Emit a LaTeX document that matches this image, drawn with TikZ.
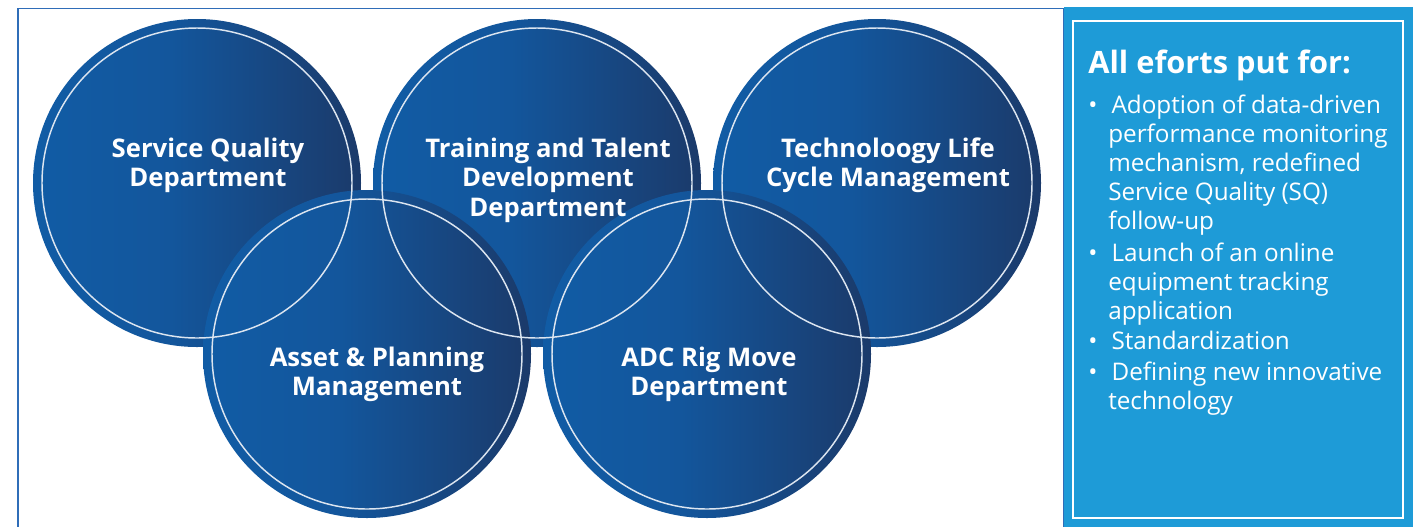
\documentclass[tikz,border=0pt]{standalone}
\usepackage{fontspec}
\setmainfont{Open Sans}
\definecolor{frameblue}{HTML}{2F6DB8}
\definecolor{panelblue}{HTML}{1E9BD7}
\definecolor{discA}{HTML}{115CA5}
\definecolor{discB}{HTML}{13569C}
\definecolor{discC}{HTML}{1B3A6A}
\definecolor{ringwhite}{HTML}{DCE5F0}
% left-to-right fade of each disc; 25bp..75bp spans the disc
\pgfdeclarehorizontalshading{discshade}{100bp}{color(0bp)=(discA); color(25bp)=(discA); color(46bp)=(discB); color(75bp)=(discC); color(100bp)=(discC)}
\tikzset{
  disc/.style={circle, minimum size=246pt, inner sep=0pt, shade, shading=discshade, draw=none},
  ring/.style={draw=ringwhite, line width=1.1pt},
  dept/.style={align=center, text=white, inner sep=0pt,
    font=\fontsize{19.25pt}{22pt}\selectfont\bfseries},
  heading/.style={text=white, inner sep=0pt, font=\fontsize{23.1pt}{28pt}\selectfont\bfseries},
  bullets/.style={align=left, text=white, inner sep=0pt,
    font=\fontsize{18.2pt}{21.75pt}\selectfont},
}
% bullet hangs left of the text block; first line starts a little further in
\newcommand{\itm}{\llap{\textbullet\hspace{8pt}}\hspace{2.5pt}}
\begin{document}
\begin{tikzpicture}[x=0.75pt, y=-0.75pt]
\useasboundingbox (0,0) rectangle (1413,526);
\clip (0,0) rectangle (1413,526);
% outer frame and side panel
\draw[frameblue, line width=1.1pt] (18,8.5) rectangle (1064,545);
\fill[panelblue] (1064,7) rectangle (1420,545);
\draw[white, line width=1.5pt] (1073,21) rectangle (1403,518);
% discs: upper row first, lower row over it
\node[disc] (sq)  at (197,183) {};
\node[disc] (ttd) at (537,183) {};
\node[disc] (tlc) at (877,183) {};
\node[disc] (apm) at (367,354) {};
\node[disc] (adc) at (707,354) {};
% inner rings stay visible over every disc
\foreach \d in {sq,ttd,tlc,apm,adc}
  \draw[ring] (\d.center) circle [radius=155];
% department names
\node[dept] (sqt)  at (208,165) {Service Quality\\Department};
\node[dept] (ttdt) at (548,180) {Training and Talent\\Development\\Department};
\node[dept] (tlct) at (888,165) {Technoloogy Life\\Cycle Management};
\node[dept] (apmt) at (377,374) {Asset \& Planning\\Management};
\node[dept] (adct) at (709,374) {ADC Rig Move\\Department};
% side panel text
\node[heading, anchor=base west] (head) at (1088,73) {All eforts put for:};
\node[bullets, anchor=base west] (list) at (1108,409) {%
\itm Adoption of data-driven\\
performance monitoring\\
mechanism, redefined\\
Service Quality (SQ)\\
follow-up\\[2.5pt]
\itm Launch of an online\\
equipment tracking\\
application\\[1pt]
\itm Standardization\\[1pt]
\itm Defining new innovative\\
technology};
\end{tikzpicture}
\end{document}
